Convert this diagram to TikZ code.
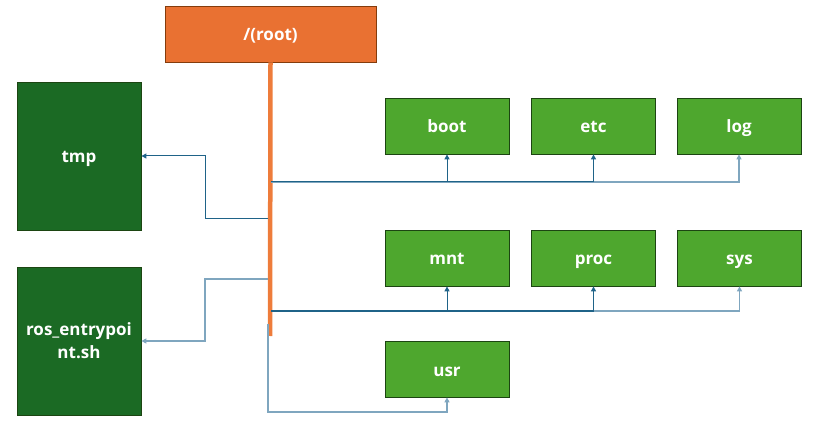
\documentclass[tikz,border=0pt]{standalone}
\usepackage{fontspec}
\setmainfont{Open Sans}
\usetikzlibrary{arrows.meta}
\definecolor{orng}{HTML}{E97132}
\definecolor{orngline}{HTML}{EE7C3B}
\definecolor{orngbd}{HTML}{843C0C}
\definecolor{lgreen}{HTML}{4EA72E}
\definecolor{dgreen}{HTML}{1B6A24}
\definecolor{gbd}{HTML}{1C4512}
\definecolor{conn}{HTML}{1F6388}
\definecolor{connl}{HTML}{7FA6BF}
\begin{document}
\begin{tikzpicture}[x=1pt,y=-1pt,
  lbl/.style={text=white,font=\fontsize{17}{23}\selectfont\bfseries,align=center,inner sep=0pt},
  one/.style={text height=16pt,text depth=2pt},
  rootbox/.style={lbl,one,draw=orngbd,fill=orng,line width=0.8pt,minimum width=211pt,minimum height=56pt},
  gbox/.style={lbl,one,draw=gbd,fill=lgreen,line width=0.8pt,minimum width=124pt,minimum height=56pt},
  dbox/.style={lbl,draw=gbd,fill=dgreen,line width=0.8pt,minimum width=124pt,minimum height=148pt},
  link/.style={draw=conn,line width=1pt,-{Triangle[length=5pt,width=5pt]}},
  linkl/.style={draw=connl,line width=1.3pt,-{Triangle[length=5pt,width=5pt]}},
  trunk/.style={draw=orngline,line width=4.5pt}]
\useasboundingbox (0,0) rectangle (813,427);
\node[rootbox] (root) at (270.5,34) {/(root)};
\node[dbox,one] (tmp) at (79,156) {tmp};
\node[dbox] (ros) at (79,341) {ros\_entrypoi\\nt.sh};
\node[gbox] (boot) at (447,126) {boot};
\node[gbox] (etc) at (593.5,126) {etc};
\node[gbox] (log) at (739,126) {log};
\node[gbox] (mnt) at (447,258) {mnt};
\node[gbox] (proc) at (593.5,258) {proc};
\node[gbox] (sys) at (739.5,258) {sys};
\node[gbox] (usr) at (447,369) {usr};
\coordinate (tEnd) at (270,336);
\coordinate (tB1) at (271,182);
\coordinate (tB2) at (271,311);
\coordinate (tL1) at (268,219);
\coordinate (tL2) at (268,279);
\coordinate (tU) at (268,324);
\coordinate (kL1) at (205,219);
\coordinate (kL2) at (205,279);
\coordinate (kU) at (268,412);
\path[trunk] (root.south) -- (tEnd);
\path[linkl] (tB1) -| (log.south);
\path[link] (tB1) -| (etc.south);
\path[link] (tB1) -| (boot.south);
\path[linkl] (tB2) -| (sys.south);
\path[link] (tB2) -| (proc.south);
\path[link] (tB2) -| (mnt.south);
\path[link] (tL1) -- (kL1) |- (tmp.east);
\path[linkl] (tL2) -- (kL2) |- (ros.east);
\path[linkl] (tU) -- (kU) -| (usr.south);
\end{tikzpicture}
\end{document}
